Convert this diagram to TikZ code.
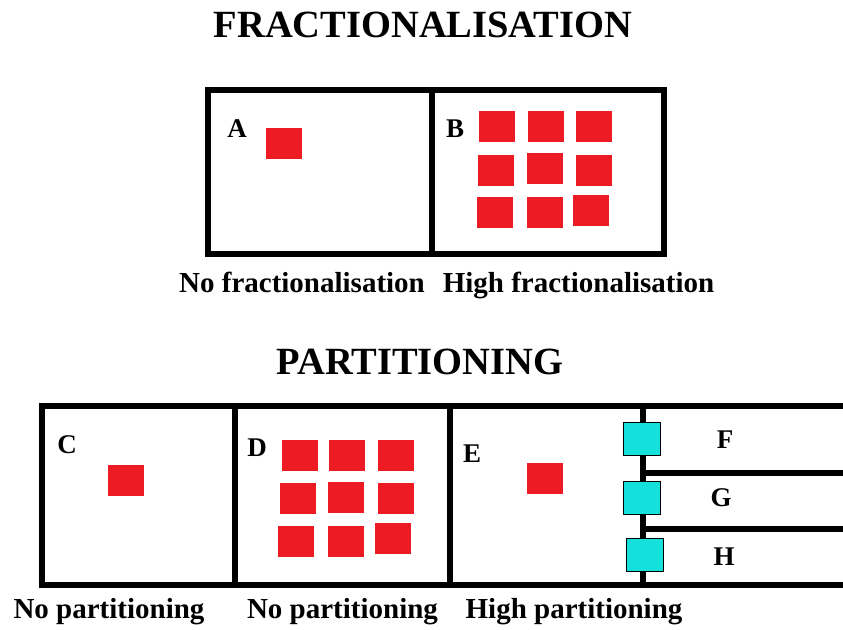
\documentclass[tikz,border=0pt]{standalone}
\usepackage{fontspec}
\setmainfont{Liberation Serif}
\definecolor{boxred}{HTML}{ED1C24}
\definecolor{boxcyan}{HTML}{14E1DC}
\tikzset{
  frame/.style={line width=6pt, line join=miter},
  redsq/.style={fill=boxred, draw=none, minimum width=36pt, minimum height=31pt, inner sep=0pt},
  cyansq/.style={fill=boxcyan, draw=black, line width=1.8pt, minimum width=37pt, minimum height=33pt, inner sep=0pt},
  title/.style={anchor=base, font=\fontsize{38.5}{42}\selectfont\bfseries, inner sep=0pt},
  caption/.style={anchor=base, font=\fontsize{29}{32}\selectfont\bfseries, inner sep=0pt},
  letter/.style={anchor=base, font=\fontsize{27}{30}\selectfont\bfseries, inner sep=0pt}
}
\begin{document}
\begin{tikzpicture}[x=1pt,y=-1pt]
\useasboundingbox (0,0) rectangle (843,629);
% titles
\node[title] (t1) at (423,37) {FRACTIONALISATION};
\node[title] (t2) at (420,374) {PARTITIONING};
% top frame
\draw[frame] (208,90) rectangle (664,253.5);
\draw[frame] (432,90) -- (432,253.5);
% bottom frame
\draw[frame] (843,406) -- (42,406) -- (42,585) -- (843,585);
\draw[frame] (235,406) -- (235,585);
\draw[frame] (450,406) -- (450,585);
\draw[frame] (643,406) -- (643,585);
\draw[frame] (643,473) -- (843,473);
\draw[frame] (643,529) -- (843,529);
% letters
\node[letter] (lA) at (237,137) {A};
\node[letter] (lB) at (455,137) {B};
\node[letter] (lC) at (67,453) {C};
\node[letter] (lD) at (257,456) {D};
\node[letter] (lE) at (472,462) {E};
\node[letter] (lF) at (725,448) {F};
\node[letter] (lG) at (721,506) {G};
\node[letter] (lH) at (724,565) {H};
% red squares
\node[redsq] (sA) at (284,143.5) {};
\node[redsq] (b11) at (497,126.5) {};
\node[redsq] (b12) at (546,126.5) {};
\node[redsq] (b13) at (594,126.5) {};
\node[redsq] (b21) at (496,170.5) {};
\node[redsq] (b22) at (545,168.5) {};
\node[redsq] (b23) at (594,170.5) {};
\node[redsq] (b31) at (495,212.5) {};
\node[redsq] (b32) at (545,212.5) {};
\node[redsq] (b33) at (591,210) {};
\node[redsq] (sC) at (126,480) {};
\node[redsq] (d11) at (299.5,455) {};
\node[redsq] (d12) at (347,455) {};
\node[redsq] (d13) at (395.5,455) {};
\node[redsq] (d21) at (298,498.5) {};
\node[redsq] (d22) at (346,497.5) {};
\node[redsq] (d23) at (395.5,498.5) {};
\node[redsq] (d31) at (296,541) {};
\node[redsq] (d32) at (346,541) {};
\node[redsq] (d33) at (393,538.5) {};
\node[redsq] (sE) at (545,478.5) {};
% cyan squares
\node[cyansq] (cF) at (642,439) {};
\node[cyansq] (cG) at (642,498) {};
\node[cyansq] (cH) at (645,555) {};
% captions
\node[caption] (c1) at (302,292) {No fractionalisation};
\node[caption] (c2) at (578.5,292) {High fractionalisation};
\node[caption] (c3) at (109,618) {No partitioning};
\node[caption] (c4) at (342.5,618) {No partitioning};
\node[caption] (c5) at (574,618) {High partitioning};
\end{tikzpicture}
\end{document}
